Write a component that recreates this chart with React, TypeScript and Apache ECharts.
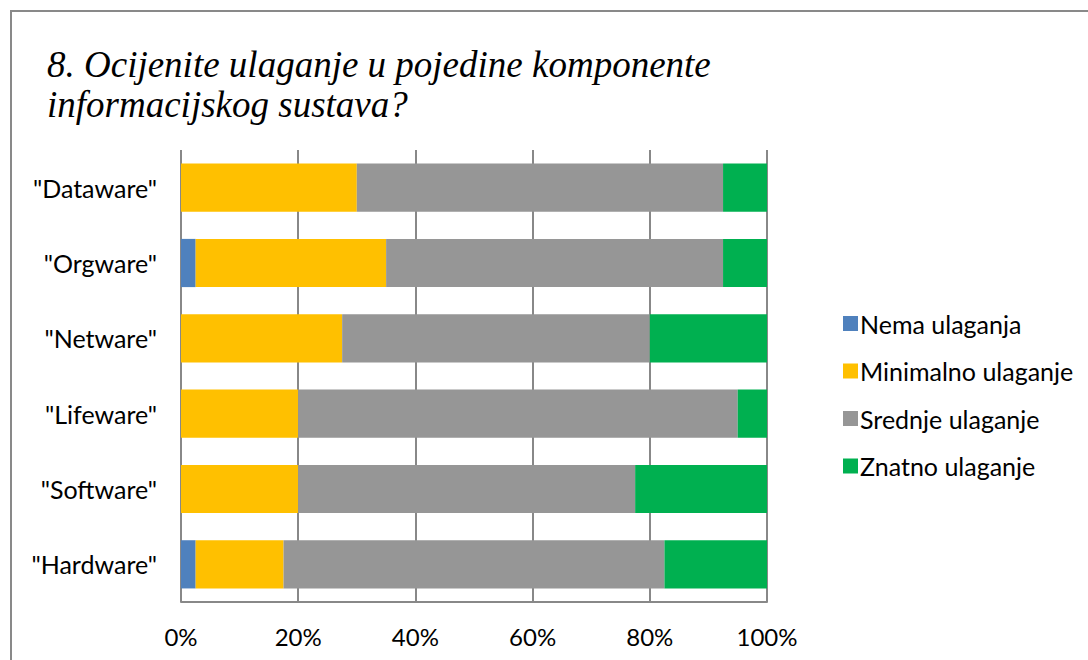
import React, { useEffect, useRef } from "react";
import * as echarts from "echarts";

const categories = ['"Hardware"', '"Software"', '"Lifeware"', '"Netware"', '"Orgware"', '"Dataware"'];
const nemaUlaganja = [2.5, 0, 0, 0, 2.5, 0];
const minimalnoUlaganje = [15, 20, 20, 27.5, 32.5, 30];
const srednjeUlaganje = [65, 57.5, 75, 52.5, 57.5, 62.5];
const znatnoUlaganje = [17.5, 22.5, 5, 20, 7.5, 7.5];
const seriesNames = ["Nema ulaganja", "Minimalno ulaganje", "Srednje ulaganje", "Znatno ulaganje"];
const colors = ["#4F81BD", "#FFC000", "#969696", "#00B050"];
const titleLines = ["8. Ocijenite ulaganje u pojedine komponente", "informacijskog sustava?"];

export default function App() {
  const ref = useRef<HTMLDivElement>(null);
  useEffect(() => {
    if (!ref.current) return;
    const chart = echarts.init(ref.current, null, { renderer: "svg" });
    const data = [nemaUlaganja, minimalnoUlaganje, srednjeUlaganje, znatnoUlaganje];
    chart.setOption({
      animation: false,
      color: colors,
      graphic: [
        {
          type: "rect",
          shape: { x: 11, y: 11, width: 1100, height: 700 },
          style: { fill: "none", stroke: "#898989", lineWidth: 2 },
          silent: true,
        },
        ...titleLines.map((t, i) => ({
          type: "text",
          left: 47,
          top: 46 + i * 40,
          silent: true,
          style: {
            text: t,
            fill: "#000",
            fontFamily: "Liberation Serif",
            fontStyle: "italic",
            fontSize: 37,
          },
        })),
      ],
      legend: {
        orient: "vertical",
        left: 838,
        top: 306,
        itemWidth: 15,
        itemHeight: 15,
        itemGap: 22.5,
        icon: "rect",
        textStyle: { fontFamily: "Lato", fontSize: 25, color: "#000", padding: [0, 0, 0, -3] },
        data: seriesNames,
      },
      grid: { left: 181, right: 1088 - 767, top: 150, bottom: 660 - 602 },
      xAxis: {
        type: "value",
        min: 0,
        max: 100,
        interval: 20,
        axisLine: { show: true, lineStyle: { color: "#888", width: 2 } },
        axisTick: { show: false },
        splitLine: { show: true, lineStyle: { color: "#888", width: 2 } },
        axisLabel: {
          formatter: "{value}%",
          fontFamily: "Lato",
          fontSize: 24,
          color: "#000",
          margin: 22,
        },
      },
      yAxis: {
        type: "category",
        data: categories,
        axisLine: { show: false },
        axisTick: { show: false },
        axisLabel: { fontFamily: "Lato", fontSize: 25, color: "#000", margin: 24 },
      },
      series: seriesNames.map((name, i) => ({
        name,
        type: "bar",
        stack: "total",
        barCategoryGap: "36%",
        data: data[i],
        itemStyle: { color: colors[i] },
      })),
    });
    return () => chart.dispose();
  }, []);
  return (
    <div
      ref={ref}
      style={{ position: "absolute", left: 0, top: 0, width: 1088, height: 660, background: "#fff" }}
    />
  );
}
